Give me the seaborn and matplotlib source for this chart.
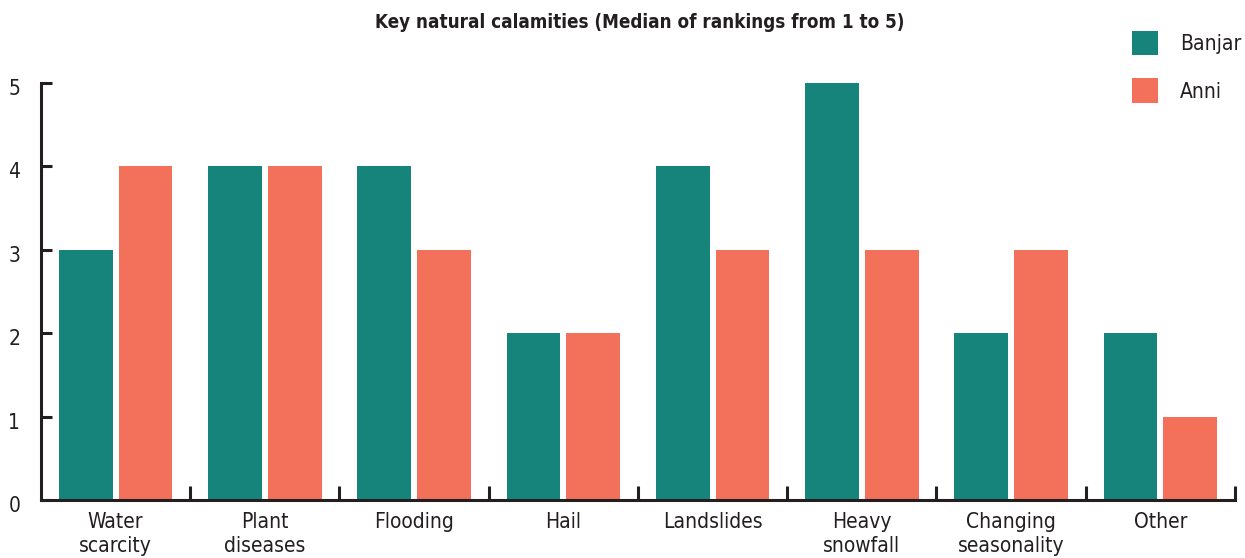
import matplotlib
matplotlib.use("Agg")
import matplotlib.pyplot as plt
import matplotlib.transforms as mtransforms
import seaborn as sns
import pandas as pd
from matplotlib.patches import Patch
from matplotlib.ticker import FixedLocator

categories = ["Water\nscarcity", "Plant\ndiseases", "Flooding", "Hail", "Landslides",
              "Heavy\nsnowfall", "Changing\nseasonality", "Other"]
banjar = [3, 4, 4, 2, 4, 5, 2, 2]
anni = [4, 4, 3, 2, 3, 3, 3, 1]
series = ["Banjar", "Anni"]
colors = {"Banjar": "#16847A", "Anni": "#F3715A"}

df = pd.DataFrame({
    "category": categories * 2,
    "value": banjar + anni,
    "site": ["Banjar"] * len(categories) + ["Anni"] * len(categories),
})

sns.set_theme(style="white")
plt.rcParams["font.family"] = ["DejaVu Sans"]
plt.rcParams["font.stretch"] = "condensed"
plt.rcParams["xtick.bottom"] = True
plt.rcParams["ytick.left"] = True

fig = plt.figure(figsize=(12.45, 5.58), dpi=100)
ax = fig.add_axes([41/1245, 1-500/558, (1235-41)/1245, (500-83)/558])

sns.barplot(data=df, x="category", y="value", hue="site", hue_order=series,
            palette=colors, width=0.8, gap=0.1, saturation=1, ax=ax, legend=False,
            errorbar=None, linewidth=0, edgecolor="none")

ax.set_xlim(-0.5, len(categories) - 0.5)
ax.set_ylim(0, 5)
ax.set_yticks([0, 1, 2, 3, 4, 5])
ax.set_xlabel("")
ax.set_ylabel("")

dark = "#231F20"
for s in ["top", "right"]:
    ax.spines[s].set_visible(False)
for s in ["left", "bottom"]:
    ax.spines[s].set_linewidth(2.2)
    ax.spines[s].set_color(dark)
    ax.spines[s].set_zorder(5)

ax.tick_params(axis="y", left=True, direction="in", length=8, width=2.2, color=dark,
               labelsize=15, labelcolor=dark, pad=15)
ax.tick_params(axis="x", which="major", bottom=True, length=0, labelsize=15,
               labelcolor=dark, pad=9)
ax.xaxis.set_minor_locator(FixedLocator([i + 0.5 for i in range(len(categories))]))
ax.tick_params(axis="x", which="minor", bottom=True, direction="in", length=10,
               width=2.2, color=dark)
for lbl in ax.get_xticklabels():
    lbl.set_linespacing(1.25)
shift = mtransforms.ScaledTranslation(0, -4/100, fig.dpi_scale_trans)
for lbl in ax.get_yticklabels():
    lbl.set_transform(lbl.get_transform() + shift)

fig.text(640/1245, 1-22/558, "Key natural calamities (Median of rankings from 1 to 5)",
         ha="center", va="center", fontsize=13.5, fontweight="bold", color=dark)

handles = [Patch(facecolor=colors[s], edgecolor="none", label=s) for s in series]
fig.legend(handles=handles, loc="upper left", bbox_to_anchor=(1113/1245, 1-12/558),
           frameon=False, fontsize=15, handlelength=1.25, handleheight=1.45,
           labelspacing=1.1, handletextpad=1.05, labelcolor=dark)

fig.savefig("out.png", dpi=100)
